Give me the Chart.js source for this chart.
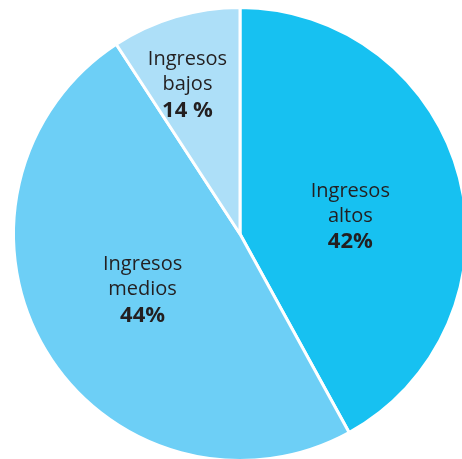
<!DOCTYPE html>
<html>
<head>
<meta charset="utf-8">
<script src="https://cdn.jsdelivr.net/npm/chart.js@4/dist/chart.umd.min.js"></script>
<style>
    html, body { margin: 0; padding: 0; background: #fff; overflow: hidden; }
    #wrap { position: relative; width: 480px; height: 468px; }
</style>
</head>
<body>
<div id="wrap"><canvas id="pie"></canvas></div>
<script>
/* ===== Income distribution pie ===== */

// Slice sizes as drawn in the picture, and the printed labels
const categories = ['Ingresos altos', 'Ingresos medios', 'Ingresos bajos'];
const sliceValues = [42, 48.8, 9.2];
const nameLines = [['Ingresos', 'altos'], ['Ingresos', 'medios'], ['Ingresos', 'bajos']];
const percentLabels = ['42%', '44%', '14 %'];

const COLORS = ['#17c1f1', '#6dcff6', '#addff8'];
// label anchor relative to the pie centre, in units of radius
const LABEL_POS = [[0.487, -0.08], [-0.43, 0.245], [-0.232, -0.66]];

const sliceLabels = {
    id: 'sliceLabels',
    afterDatasetsDraw(chart) {
        const ctx = chart.ctx;
        const arc = chart.getDatasetMeta(0).data[0];
        const cx = arc.x, cy = arc.y, r = arc.outerRadius;
        ctx.save();
        ctx.textAlign = 'center';
        ctx.textBaseline = 'middle';
        ctx.fillStyle = '#231f20';
        categories.forEach((_, i) => {
            const x = cx + LABEL_POS[i][0] * r;
            const y = cy + LABEL_POS[i][1] * r;
            ctx.font = '20px "Open Sans", sans-serif';
            ctx.fillText(nameLines[i][0], x, y - 25);
            ctx.fillText(nameLines[i][1], x, y);
            ctx.font = 'bold 22px "Open Sans", sans-serif';
            ctx.fillText(percentLabels[i], x, y + 26);
        });
        ctx.restore();
    }
};

new Chart(document.getElementById('pie').getContext('2d'), {
    type: 'pie',
    data: {
        labels: categories,
        datasets: [{
            data: sliceValues,
            backgroundColor: COLORS,
            borderColor: '#ffffff',
            borderWidth: 3
        }]
    },
    options: {
        responsive: true,
        maintainAspectRatio: false,
        animation: false,
        layout: { padding: 6 },
        plugins: {
            legend: { display: false },
            tooltip: { enabled: false }
        }
    },
    plugins: [sliceLabels]
});
</script>
</body>
</html>
